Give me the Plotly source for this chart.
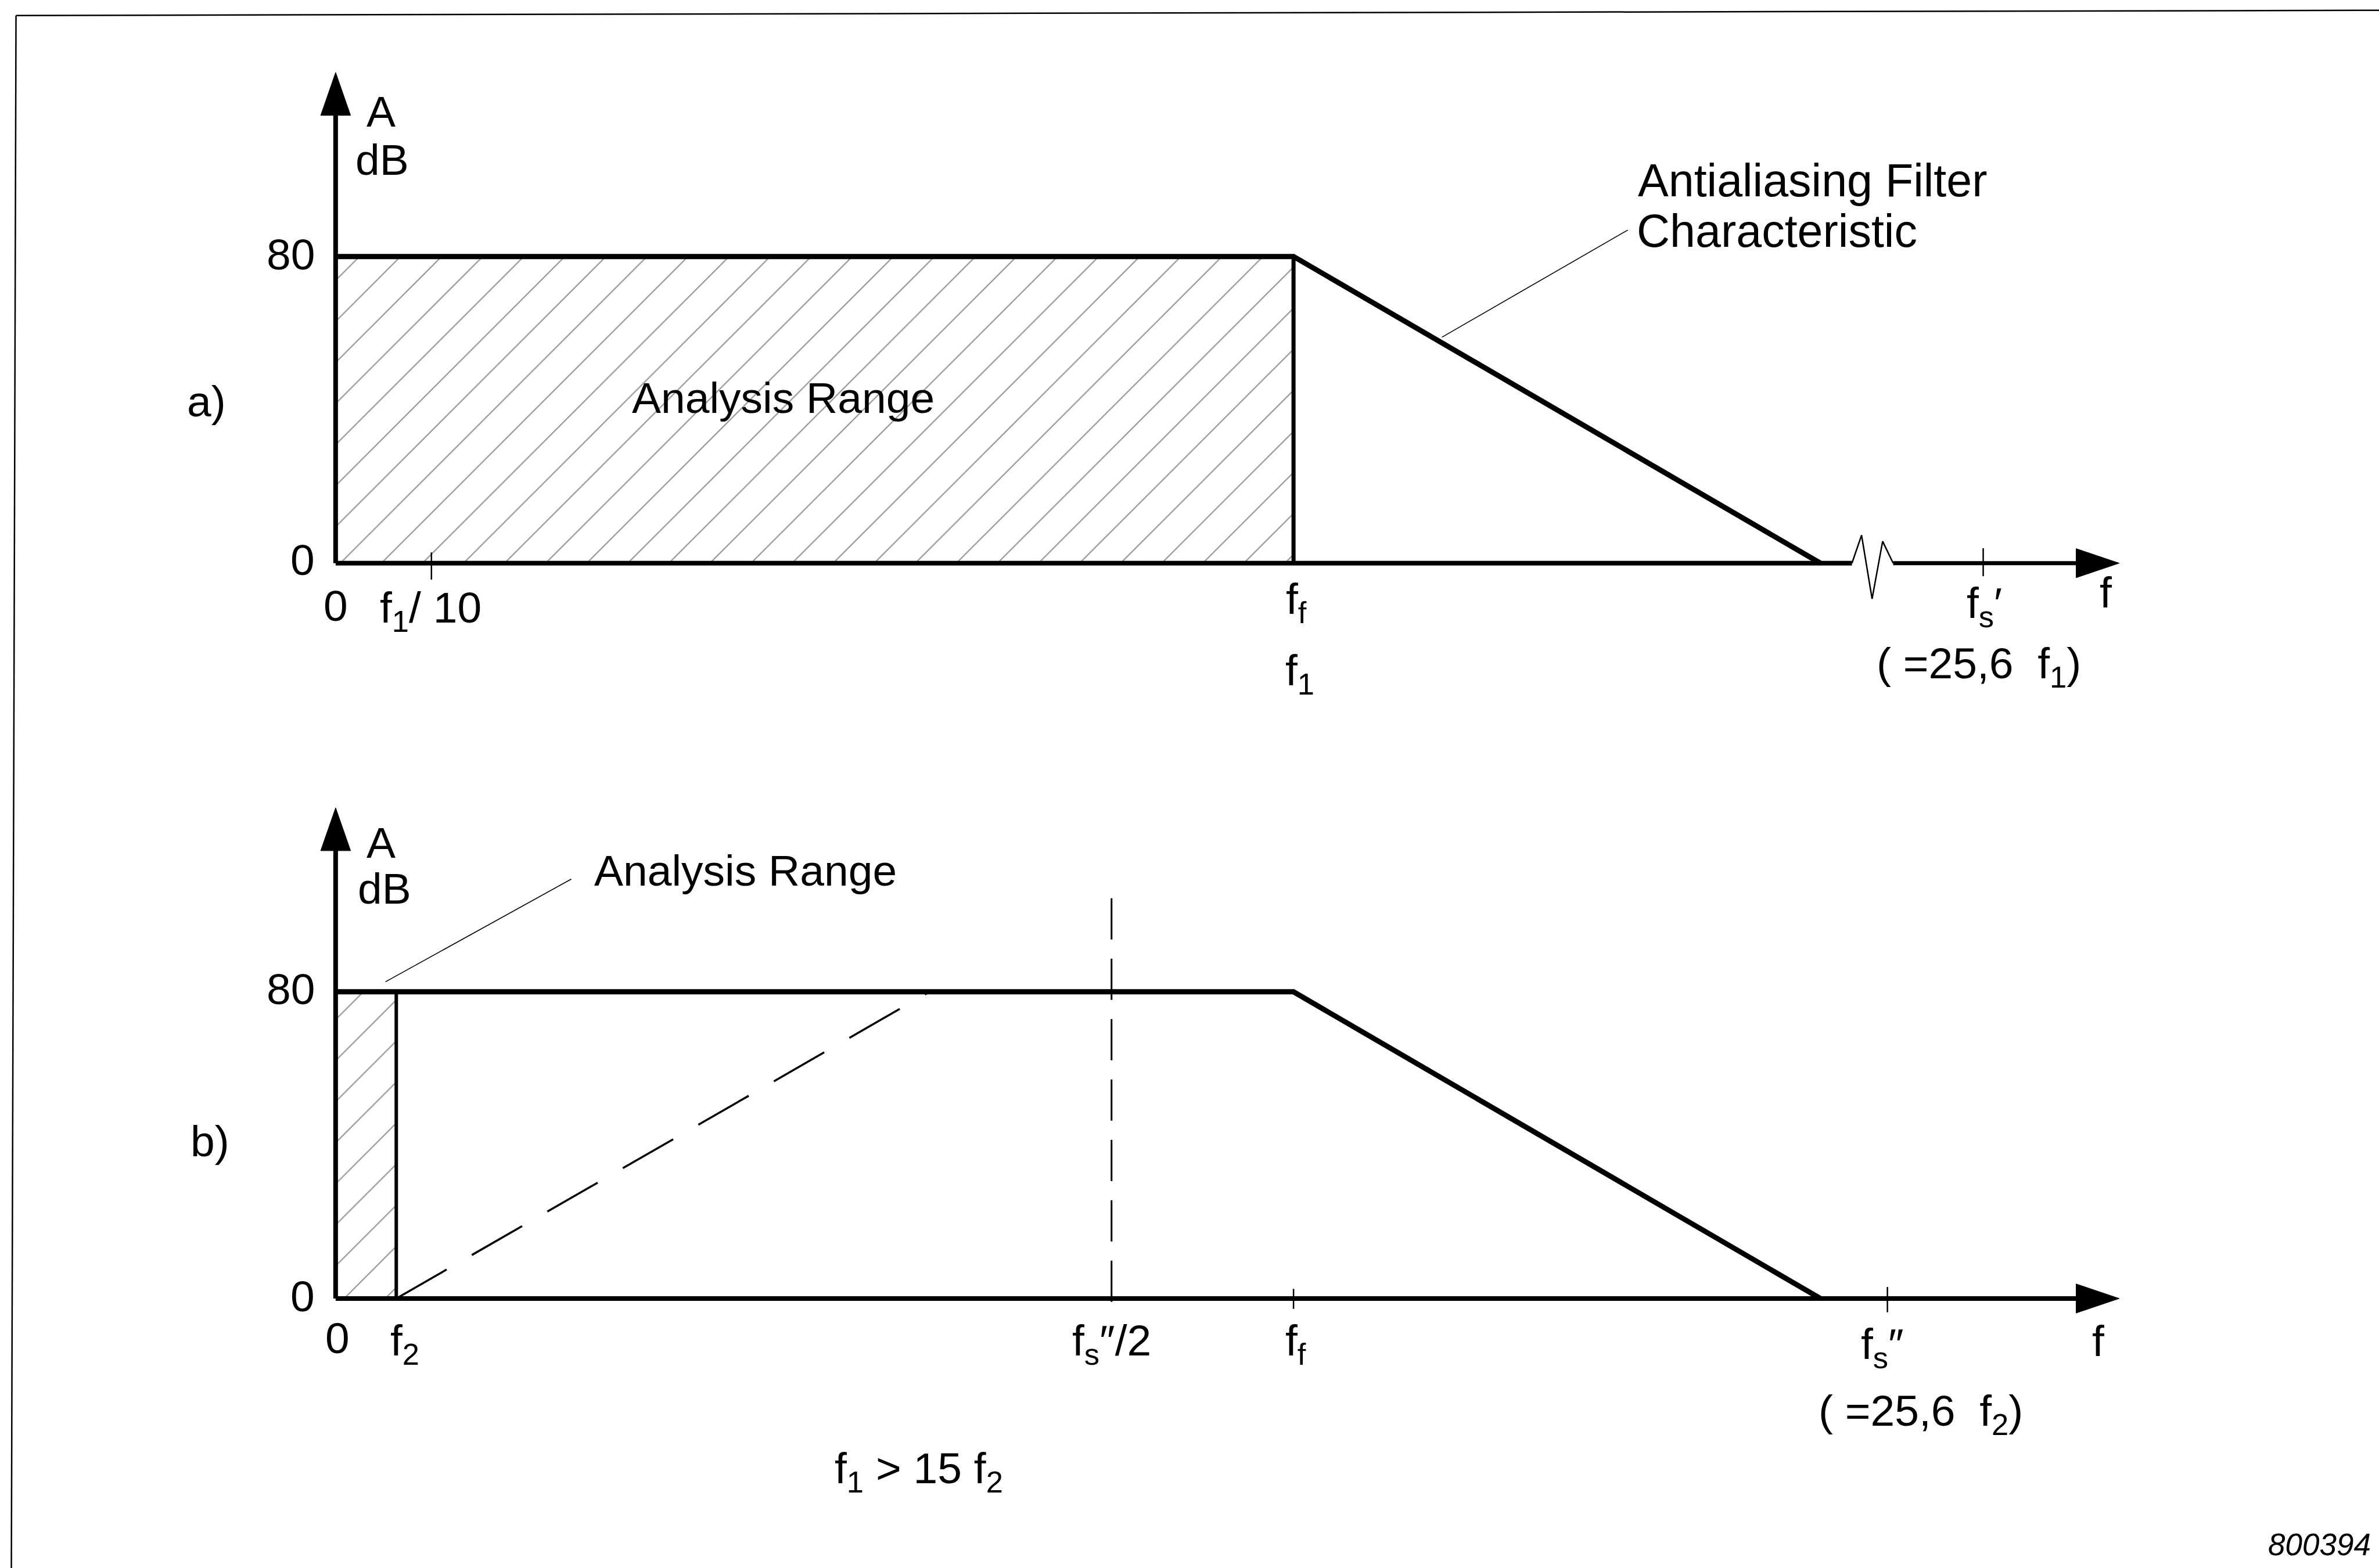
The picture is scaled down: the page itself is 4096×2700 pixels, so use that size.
import plotly.graph_objects as go

# ---------------------------------------------------------------------------
# Schematic frequency units: the filter corner f_f is placed at 10.
# Amplitude in dB (0 ... 80).
# ---------------------------------------------------------------------------
LEVEL_TOP_DB = 80
LEVEL_BOTTOM_DB = 0

F_FILTER = 10.0                 # antialiasing filter corner f_f
F_STOP = 15.5                   # filter slope reaches 0 dB
FILTER_X = [0.0, F_FILTER, F_STOP]
FILTER_Y = [80, 80, 0]

# panel a) -- analysis range up to f1 (= f_f)
F1 = 10.0
F1_TENTH = 1.0
FS_A = 17.2                     # f_s' (= 25,6 f1, drawn on a broken axis)
BREAK_X = [15.83, 15.93, 16.04, 16.15, 16.26]
BREAK_Y = [0.0, 7.3, -9.3, 5.7, 0.0]

# panel b) -- analysis range up to f2
F2 = 0.633
FS_B = 16.2                     # f_s'' (= 25,6 f2)
FS_B_HALF = FS_B / 2            # f_s''/2
ALIAS_X = [F2, FS_B - F_FILTER] # filter slope mirrored about f_s''/2
ALIAS_Y = [0, 80]
NYQ_Y = [104.4, -3.4]

# axis extents (arrow tips)
AXIS_X_END = 18.62
AXIS_Y_END = 128.0
ARROW_X_LEN, ARROW_X_HALF = 0.45, 3.8     # x-arrow: length (f units), half height (dB)
ARROW_Y_LEN, ARROW_Y_HALF = 11.2, 0.156   # y-arrow: length (dB), half width (f units)

# ---------------------------------------------------------------------------
W, H = 4096, 2700
S = W / 4607.0                  # drawing scale
INK = "black"
FONT = "Liberation Sans, Arial, sans-serif"
FS = 75

X_RANGE = [-3.504, 21.332]
YA_RANGE = [-262.1, 146.9]
YB_RANGE = [-70.3, 338.7]

fig = go.Figure()


def lines(x, y, width, yaxis="y", dash=None, color=INK):
    fig.add_trace(go.Scatter(
        x=x, y=y, mode="lines", yaxis=yaxis,
        line=dict(color=color, width=width, dash=dash),
        hoverinfo="skip", showlegend=False))


def solid(x, y, yaxis="y"):
    fig.add_trace(go.Scatter(
        x=x, y=y, mode="lines", yaxis=yaxis, fill="toself", fillcolor=INK,
        line=dict(color=INK, width=1), hoverinfo="skip", showlegend=False))


def hatched(x0, x1, yaxis="y"):
    fig.add_trace(go.Scatter(
        x=[x0, x0, x1, x1, x0], y=[0, 80, 80, 0, 0], mode="lines", yaxis=yaxis,
        fill="toself", fillcolor="white",
        fillpattern=dict(shape="/", fgcolor="#2a2a2a", bgcolor="white",
                         size=50, solidity=0.045),
        line=dict(width=0, color="white"), hoverinfo="skip", showlegend=False))


def axes(yaxis, with_break):
    # vertical amplitude axis with arrow
    lines([0, 0], [0, AXIS_Y_END - ARROW_Y_LEN], 8, yaxis)
    solid([-ARROW_Y_HALF, 0, ARROW_Y_HALF, -ARROW_Y_HALF],
          [AXIS_Y_END - ARROW_Y_LEN, AXIS_Y_END, AXIS_Y_END - ARROW_Y_LEN,
           AXIS_Y_END - ARROW_Y_LEN], yaxis)
    # frequency axis with arrow
    base = AXIS_X_END - ARROW_X_LEN
    if with_break:
        lines([0, BREAK_X[0]], [0, 0], 8, yaxis)
        lines(BREAK_X, BREAK_Y, 2.5, yaxis)
        lines([BREAK_X[-1], base], [0, 0], 7, yaxis)
    else:
        lines([0, base], [0, 0], 8, yaxis)
    solid([base, AXIS_X_END, base, base],
          [ARROW_X_HALF, 0, -ARROW_X_HALF, ARROW_X_HALF], yaxis)


def label(x, y, text, down=0.0, right=0.0, yaxis="y", xanchor="center",
          size=FS, italic=False, xref="x"):
    corr = 0.118 * size if "<sub>" in text else 0.0
    fig.add_annotation(
        x=x, y=y, xref=xref, yref=yaxis, text=text, showarrow=False,
        xanchor=xanchor, yanchor="middle",
        xshift=right * S, yshift=-(down * S) - corr,
        font=dict(family=FONT, size=size, color=INK,
                  style="italic" if italic else "normal"))


# ------------------------------- panel a) ---------------------------------
hatched(0, F1, "y")
lines(FILTER_X, FILTER_Y, 9, "y")
lines([F1, F1], [0, 80], 7, "y")
axes("y", with_break=True)
lines([F1_TENTH, F1_TENTH], [2.8, -4.3], 2.5, "y")
lines([FS_A, FS_A], [3.9, -3.4], 2.5, "y")
# leader to the filter characteristic
lead_x = 11.55
lead_y = 80 * (F_STOP - lead_x) / (F_STOP - F_FILTER) + 1.5
lines([13.49, lead_x], [86.9, lead_y], 1.6, "y")

label(0.474, 117.8, "A")
label(0.485, 105.3, "dB")
label(0, 80, "80", down=-4, right=-38, xanchor="right")
label(0, 0, "0", down=-7, right=-38, xanchor="right")
label(-1.348, 42.3, "a)")
label(0, 0, "0", down=82)
label(F1_TENTH, 0, "f<sub>1</sub>/ 10", down=82, right=-2)
label(F_FILTER, 0, "f<sub>f</sub>", down=65, right=6)
label(F_FILTER, 0, "f<sub>1</sub>", down=204, right=12)
label(FS_A, 0, "f<sub>s</sub>′", down=73, right=2)
label(FS_A, 0, "( =25,6  f<sub>1</sub>)", down=190, right=-8)
label(18.48, 0, "f", down=57)
label(4.674, 43.2, "Analysis Range")
label(13.58, 99.8, "Antialiasing Filter", xanchor="left", size=79)
label(13.57, 86.7, "Characteristic", xanchor="left", size=79)

# ------------------------------- panel b) ---------------------------------
hatched(0, F2, "y2")
lines(FILTER_X, FILTER_Y, 9, "y2")
lines([F2, F2], [0, 80], 6, "y2")
axes("y2", with_break=False)
lines(ALIAS_X, ALIAS_Y, 3.5, "y2", dash="100px,50px")
lines([FS_B_HALF, FS_B_HALF], NYQ_Y, 3, "y2", dash="71px,33px")
lines([F_FILTER, F_FILTER], [2.5, -2.7], 2.5, "y2")
lines([FS_B, FS_B], [3.0, -3.6], 2.5, "y2")
lines([0.52, 2.46], [82.6, 109.4], 1.6, "y2")

label(0.474, 118.9, "A", yaxis="y2")
label(0.507, 106.9, "dB", yaxis="y2")
label(0, 80, "80", down=-5, right=-38, xanchor="right", yaxis="y2")
label(0, 0, "0", down=-4, right=-38, xanchor="right", yaxis="y2")
label(-1.315, 41.1, "b)", yaxis="y2")
label(0, 0, "0", down=77, right=4, yaxis="y2")
label(F2, 0, "f<sub>2</sub>", down=77, right=17, yaxis="y2")
label(FS_B_HALF, 0, "f<sub>s</sub>″/2", down=77, yaxis="y2")
label(F_FILTER, 0, "f<sub>f</sub>", down=77, right=4, yaxis="y2")
label(FS_B, 0, "f<sub>s</sub>″", down=84, right=-10, yaxis="y2")
label(FS_B, 0, "( =25,6  f<sub>2</sub>)", down=213, right=65, yaxis="y2")
label(18.4, 0, "f", down=82, yaxis="y2")
label(2.685, 111.6, "Analysis Range", xanchor="left", yaxis="y2")
label(6.09, -43.8, "f<sub>1</sub> > 15 f<sub>2</sub>", yaxis="y2")

fig.add_annotation(x=4594 / 4607, y=1 - 2992 / 3037, xref="paper", yref="paper",
                   text="800394", showarrow=False, xanchor="right", yanchor="middle",
                   font=dict(family=FONT, size=53, color=INK, style="italic"))

# outer frame (top and left edges)
fig.add_shape(type="line", xref="paper", yref="paper",
              x0=31 / 4607, y0=1 - 30 / 3037, x1=1.0, y1=1 - 20 / 3037,
              line=dict(color=INK, width=2.5))
fig.add_shape(type="line", xref="paper", yref="paper",
              x0=31 / 4607, y0=1 - 30 / 3037, x1=22 / 4607, y1=0.0,
              line=dict(color=INK, width=2.5))

fig.update_layout(
    width=W, height=H,
    margin=dict(l=0, r=0, t=0, b=0),
    paper_bgcolor="white", plot_bgcolor="white",
    showlegend=False, hovermode=False,
    xaxis=dict(range=X_RANGE, visible=False, fixedrange=True, domain=[0, 1]),
    yaxis=dict(range=YA_RANGE, visible=False, fixedrange=True, domain=[0, 1]),
    yaxis2=dict(range=YB_RANGE, visible=False, fixedrange=True,
                overlaying="y", anchor="x"),
)

fig.write_html("out.html")
